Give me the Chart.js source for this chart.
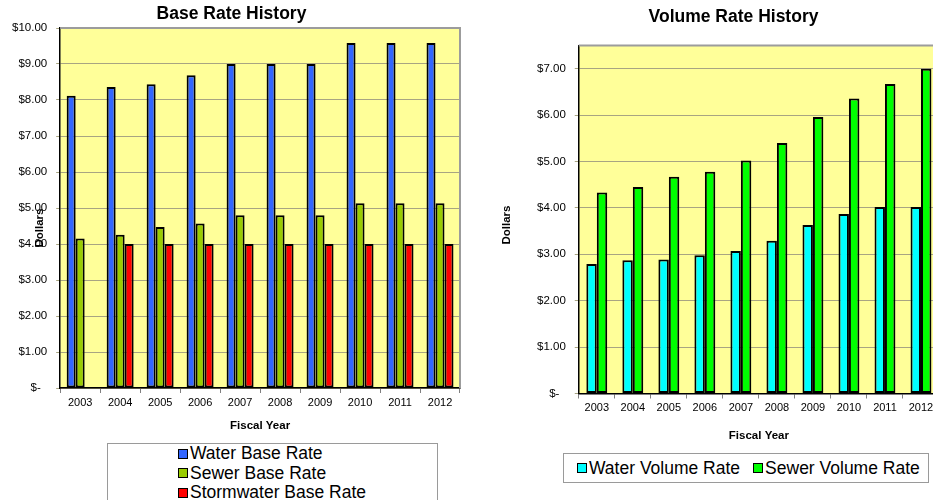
<!DOCTYPE html>
<html>
<head>
<meta charset="utf-8">
<script src="https://cdn.jsdelivr.net/npm/chart.js@4.4.1/dist/chart.umd.min.js"></script>
<style>
  html, body { margin: 0; padding: 0; background: #fff; overflow: hidden; }
  body { width: 933px; height: 500px; position: relative; font-family: "Liberation Sans", Arial, sans-serif; }
  canvas { position: absolute; }
  #baseChart { left: 0; top: 0; }
  #volumeChart { left: 470px; top: 0; }
  .legend { position: absolute; border: 1px solid #9a9a9a; box-sizing: border-box; background: #fff; color: #000; }
  .legend .item { display: flex; align-items: center; white-space: nowrap; }
  .legend .sw { width: 8px; height: 8px; border: 1.5px solid #000; margin-right: 2px; }
  #baseLegend { left: 107px; top: 443px; width: 331px; height: 70px; padding-left: 70px; font-size: 17.5px; line-height: 19.5px; }
  #volumeLegend { left: 563px; top: 453px; width: 366px; height: 30px; padding-left: 13px; font-size: 17.5px; display: flex; align-items: center; }
  #volumeLegend .item { margin-right: 13px; }
</style>
</head>
<body>
<canvas id="baseChart" width="470" height="440"></canvas>
<canvas id="volumeChart" width="475" height="450"></canvas>
<div class="legend" id="baseLegend"></div>
<div class="legend" id="volumeLegend"></div>
<script>
const years = ['2003', '2004', '2005', '2006', '2007', '2008', '2009', '2010', '2011', '2012'];

const waterBase = [8.12, 8.36, 8.44, 8.69, 9.00, 9.00, 9.00, 9.58, 9.58, 9.58];
const sewerBase = [4.15, 4.26, 4.47, 4.57, 4.80, 4.80, 4.80, 5.13, 5.13, 5.13];
const stormBase = [null, 4.00, 4.00, 4.00, 4.00, 4.00, 4.00, 4.00, 4.00, 4.00];

const waterVolume = [2.79, 2.87, 2.89, 2.98, 3.07, 3.29, 3.63, 3.87, 4.02, 4.02];
const sewerVolume = [4.33, 4.45, 4.67, 4.78, 5.02, 5.40, 5.96, 6.36, 6.67, 7.00];

const baseMax = 10;
const volumeMax = 7.5;

const FONT = "'Liberation Sans', Arial, sans-serif";
const gridColor = '#a8a582';

function money(v) {
  if (v === 0) return '$-  ';
  return '$' + v.toFixed(2);
}

// yellow plot area, grey top/right frame, and the "Dollars" label
const plotFrame = {
  id: 'plotFrame',
  beforeDraw(chart, args, opts) {
    const a = chart.chartArea;
    const c = chart.ctx;
    c.save();
    c.fillStyle = '#ffff99';
    c.fillRect(a.left, a.top, a.right - a.left, a.bottom - a.top);
    c.restore();
  },
  afterDraw(chart, args, opts) {
    const a = chart.chartArea;
    const c = chart.ctx;
    c.save();
    c.strokeStyle = '#9c9c9c';
    c.lineWidth = 2;
    c.beginPath();
    c.moveTo(a.left, a.top);
    c.lineTo(a.right, a.top);
    c.lineTo(a.right, a.bottom);
    c.stroke();
    c.translate(opts.labelX, opts.labelY);
    c.rotate(-Math.PI / 2);
    c.fillStyle = '#000';
    c.font = 'bold 11.5px ' + FONT;
    c.textAlign = 'center';
    c.textBaseline = 'middle';
    c.fillText('Dollars', 0, 0);
    c.restore();
  }
};

function makeOptions(title, max, pad, titlePad, xTitlePad, catPct, labelX, labelY) {
  return {
    responsive: false,
    animation: false,
    devicePixelRatio: 1,
    layout: { padding: pad },
    plugins: {
      legend: { display: false },
      tooltip: { enabled: false },
      title: {
        display: true,
        text: title,
        color: '#000',
        font: { family: FONT, size: 17.5, weight: 'bold' },
        padding: titlePad
      },
      plotFrame: { labelX: labelX, labelY: labelY }
    },
    datasets: {
      bar: { categoryPercentage: catPct, barPercentage: 1 }
    },
    scales: {
      x: {
        offset: true,
        grid: { drawOnChartArea: false, drawTicks: true, tickLength: 5, color: '#808080', offset: true },
        border: { color: '#000', width: 1.5 },
        ticks: { color: '#000', font: { family: FONT, size: 11 }, padding: 3, maxRotation: 0 },
        title: {
          display: true,
          text: 'Fiscal Year',
          color: '#000',
          font: { family: FONT, size: 11.5, weight: 'bold' },
          padding: xTitlePad
        }
      },
      y: {
        min: 0,
        max: max,
        afterBuildTicks: axis => { axis.ticks = axis.ticks.filter(t => Number.isInteger(t.value)); },
        grid: { color: gridColor, lineWidth: 1, tickLength: 4 },
        border: { color: '#000', width: 1.5 },
        ticks: {
          stepSize: 1,
          color: '#000',
          font: { family: FONT, size: 11.5 },
          padding: 9,
          callback: v => money(v)
        }
      }
    }
  };
}

function barSet(label, data, color) {
  return {
    label: label,
    data: data,
    backgroundColor: color,
    borderColor: '#000',
    borderWidth: 2,
    borderSkipped: false
  };
}

const baseSets = [
  barSet('Water Base Rate', waterBase, '#3366ff'),
  barSet('Sewer Base Rate', sewerBase, '#99cc00'),
  barSet('Stormwater Base Rate', stormBase, '#ff0000')
];

const volumeSets = [
  barSet('Water Volume Rate', waterVolume, '#00ffff'),
  barSet('Sewer Volume Rate', sewerVolume, '#00ff00')
];

const baseChart = new Chart(document.getElementById('baseChart'), {
  type: 'bar',
  data: { labels: years, datasets: baseSets },
  options: makeOptions('Base Rate History', baseMax,
    { left: 3, right: 10, top: 0, bottom: 0 },
    { top: 3.5, bottom: 3.5 },
    { top: 7, bottom: 7 },
    0.675, 40, 228),
  plugins: [plotFrame]
});

const volumeChart = new Chart(document.getElementById('volumeChart'), {
  type: 'bar',
  data: { labels: years, datasets: volumeSets },
  options: makeOptions('Volume Rate History', volumeMax,
    { left: 58, right: 6, top: 0, bottom: 1 },
    { top: 6.5, bottom: 18 },
    { top: 11.5, bottom: 6 },
    0.58, 37, 225),
  plugins: [plotFrame]
});

// html legends with a grey box, built from the chart datasets
function buildLegend(chart, el) {
  chart.data.datasets.forEach(ds => {
    const item = document.createElement('div');
    item.className = 'item';
    const sw = document.createElement('span');
    sw.className = 'sw';
    sw.style.background = ds.backgroundColor;
    item.appendChild(sw);
    item.appendChild(document.createTextNode(ds.label));
    el.appendChild(item);
  });
}

buildLegend(baseChart, document.getElementById('baseLegend'));
buildLegend(volumeChart, document.getElementById('volumeLegend'));
</script>
</body>
</html>
